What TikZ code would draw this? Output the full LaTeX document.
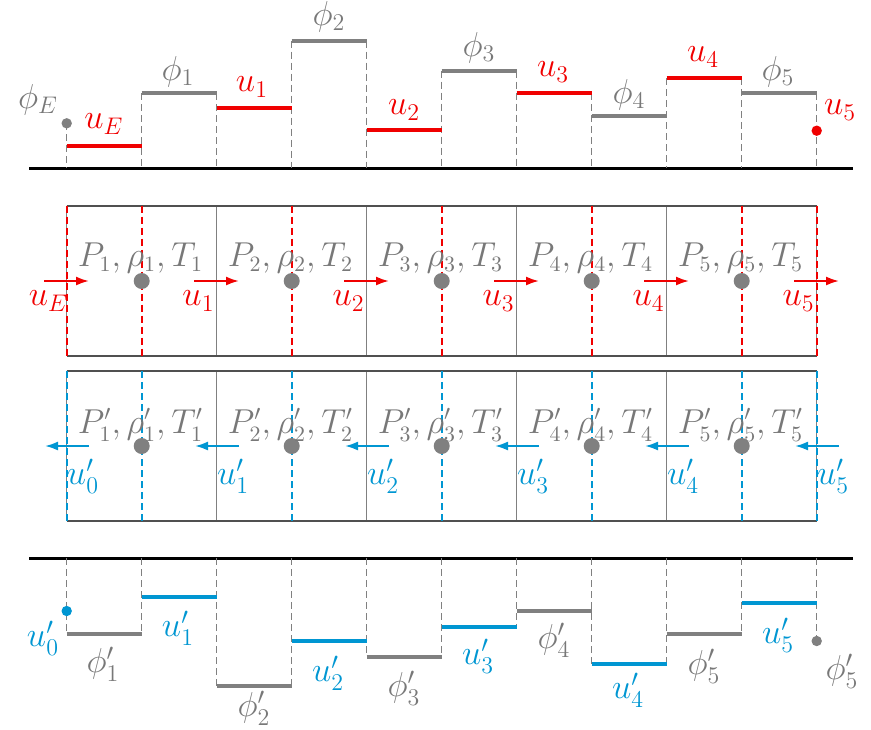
\documentclass[tikz,border=0pt]{standalone}
\usetikzlibrary{arrows.meta}
\definecolor{cred}{RGB}{240,0,0}
\definecolor{cblue}{RGB}{0,150,210}
\definecolor{cgray}{RGB}{128,128,128}
\definecolor{tgray}{RGB}{120,120,120}
\definecolor{bgray}{RGB}{80,80,80}
\begin{document}
\begin{tikzpicture}[x=0.5pt,y=-0.5pt,
  lab/.style={font=\fontsize{16.5}{19}\selectfont, inner sep=0pt},
  plab/.style={font=\fontsize{16.2}{19}\selectfont, inner sep=0pt, text=tgray},
  segline/.style={line width=2pt},
  vdash/.style={cgray, line width=0.5pt, dash pattern=on 3.5pt off 2pt},
  base/.style={black, line width=1.5pt},
  boxh/.style={bgray, line width=1pt},
  boxv/.style={cgray, line width=0.7pt},
  rdash/.style={draw=cred, line width=0.9pt, dash pattern=on 3.6pt off 1.9pt},
  bdash/.style={draw=cblue, line width=0.9pt, dash pattern=on 3.6pt off 1.9pt},
  rarrow/.style={cred, line width=1pt, -{Latex[length=6.5pt,width=4.5pt]}},
  barrow/.style={cblue, line width=1pt, -{Latex[length=6.5pt,width=4.5pt]}},
  cdot/.style={circle, fill=cgray, inner sep=0pt, minimum size=8pt}]
\useasboundingbox (0,0) rectangle (871,729);

% ---------------- top profile ----------------
\draw[base] (29,168) -- (853,168);
\foreach \i/\t in {0/123.3,1/93.3,2/93.3,3/40.7,4/40.7,5/70.7,6/70.7,7/93,8/78,9/78,10/93}
  \draw[vdash] ({66.7+75*\i},\t) -- ({66.7+75*\i},168);
\foreach \i/\h/\c in {0/145.7/cred,1/93.3/cgray,2/108.3/cred,3/40.7/cgray,4/130/cred,5/70.7/cgray,6/93/cred,7/115.7/cgray,8/78/cred,9/93/cgray}
  \draw[segline,\c] ({66.7+75*\i},\h) -- ({141.7+75*\i},\h);
\fill[cgray] (66.7,123.3) circle (2.6pt);
\fill[cred] (816.7,130.7) circle (2.6pt);
\foreach \x/\y/\t/\c [count=\k] in {38/100/\phi_E/tgray,104/124/u_E/cred,178/72/\phi_1/tgray,252/87/u_1/cred,329/17/\phi_2/tgray,404/110/u_2/cred,479/48/\phi_3/tgray,553/72/u_3/cred,629/95/\phi_4/tgray,703/57/u_4/cred,778/72/\phi_5/tgray,840/110/u_5/cred}
  \node[lab,text=\c] (tl\k) at (\x,\y) {$\t$};

% ---------------- red (forward) cells ----------------
\foreach \i in {0,...,5}
  \draw[boxv] ({66.7+150*\i},205.7) -- ({66.7+150*\i},355.7);
\draw[boxh] (66.7,205.7) -- (816.7,205.7);
\draw[boxh] (66.7,355.7) -- (816.7,355.7);
\foreach \i in {0,...,4}
  \draw[rdash] ({141.7+150*\i},205.7) -- ({141.7+150*\i},355.7);
\draw[rdash] (66.7,205.7) -- (66.7,355.7);
\draw[rdash] (816.7,205.7) -- (816.7,355.7);
\foreach \i in {1,...,5} {
  \node[cdot] (rd\i) at ({141.7+150*(\i-1)},281) {};
  \node[plab] (rp\i) at ({140.5+150*(\i-1)},258) {$P_{\i},\rho_{\i},T_{\i}$};
}
\foreach \i/\t in {0/E,1/1,2/2,3/3,4/4,5/5} {
  \coordinate (ra\i) at ({44+150*\i},281);
  \coordinate (rb\i) at ({89+150*\i},281);
  \draw[rarrow] (ra\i) -- (rb\i);
  \node[lab,text=cred] (ru\i) at ({48.5+150*\i},301) {$u_{\t}$};
}

% ---------------- blue (adjoint) cells ----------------
\foreach \i in {0,...,5}
  \draw[boxv] ({66.7+150*\i},371) -- ({66.7+150*\i},521);
\draw[boxh] (66.7,371) -- (816.7,371);
\draw[boxh] (66.7,521) -- (816.7,521);
\foreach \i in {0,...,4}
  \draw[bdash] ({141.7+150*\i},371) -- ({141.7+150*\i},521);
\draw[bdash] (66.7,371) -- (66.7,521);
\draw[bdash] (816.7,371) -- (816.7,521);
\foreach \i in {1,...,5} {
  \node[cdot] (bd\i) at ({141.7+150*(\i-1)},446) {};
  \node[plab] (bp\i) at ({140.5+150*(\i-1)},425) {$P'_{\i},\rho'_{\i},T'_{\i}$};
}
\foreach \i in {0,...,5} {
  \coordinate (ba\i) at ({89+150*\i},446);
  \coordinate (bb\i) at ({45+150*\i},446);
  \draw[barrow] (ba\i) -- (bb\i);
  \node[lab,text=cblue] (bu\i) at ({83+150*\i},476) {$u'_{\i}$};
}

% ---------------- bottom profile ----------------
\draw[base] (29,558) -- (853,558);
\foreach \i/\t in {0/634,1/634,2/686,3/686,4/656.7,5/656.7,6/626.7,7/664,8/664,9/634,10/641}
  \draw[vdash] ({66.7+75*\i},558) -- ({66.7+75*\i},\t);
\foreach \i/\h/\c in {0/634/cgray,1/596.7/cblue,2/686/cgray,3/641/cblue,4/656.7/cgray,5/626.7/cblue,6/610.7/cgray,7/664/cblue,8/634/cgray,9/603.3/cblue}
  \draw[segline,\c] ({66.7+75*\i},\h) -- ({141.7+75*\i},\h);
\fill[cblue] (66.7,611) circle (2.6pt);
\fill[cgray] (816.7,641) circle (2.6pt);
\foreach \x/\y/\t/\c [count=\k] in {43/638/u'_0/cblue,103/664/\phi'_1/tgray,178/628/u'_1/cblue,254/708/\phi'_2/tgray,328/673/u'_2/cblue,404/688/\phi'_3/tgray,478/656/u'_3/cblue,554/640/\phi'_4/tgray,628/690/u'_4/cblue,704/666/\phi'_5/tgray,778/635/u'_5/cblue,842/671/\phi'_5/tgray}
  \node[lab,text=\c] (bl\k) at (\x,\y) {$\t$};
\end{tikzpicture}
\end{document}
